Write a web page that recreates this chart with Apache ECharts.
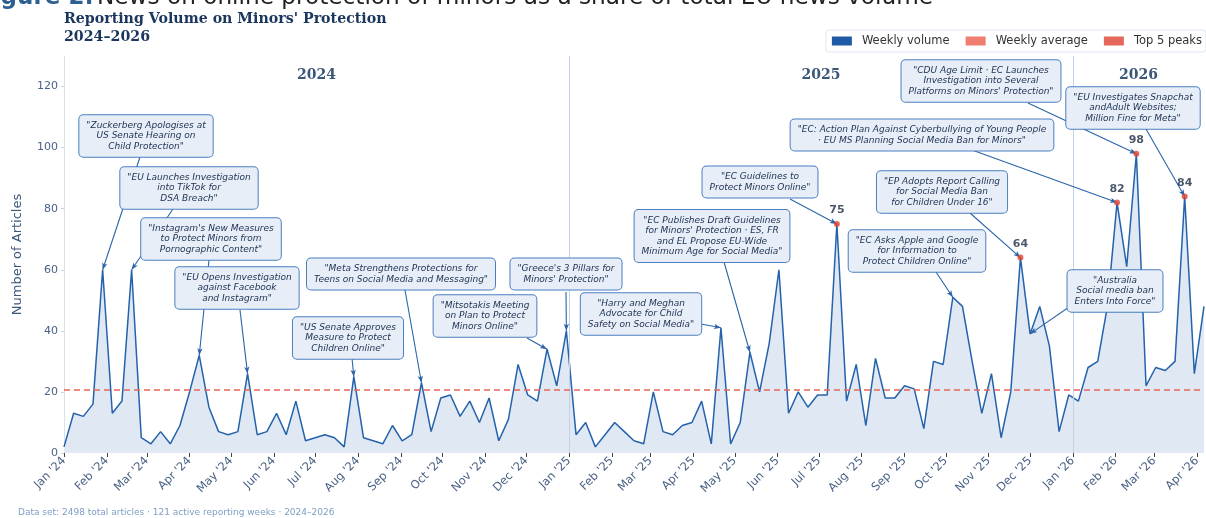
<!DOCTYPE html>
<html><head><meta charset="utf-8">
<script src="https://cdn.jsdelivr.net/npm/echarts@6/dist/echarts.min.js"></script>
<style>html,body{margin:0;padding:0;background:#fff}#c{width:1206px;height:518px}</style>
</head><body><div id="c"></div>
<script>
// ---------------- data ----------------
const weekStart = '2024-01-01';            // weekly points, Mondays
const weekly2024 = [2,13,12,16,60,13,17,60,5,3,7,3,9,20,32,15,7,6,7,26,6,7,13,6,17,4,5,6,5,2,25,5,4,3,9,4,6,23,7,18,19,12,17,10,18,4,11,29,19,17,34,22,40];
const weekly2025 = [6,10,2,6,10,7,4,3,20,7,6,9,10,17,3,41,3,10,33,20,36,60,13,20,15,19,19,75,17,29,9,31,18,18,22,21,8,30,29,51,48,30,13,26,5,20,64,39,48,35,7,19];
const weekly2026 = [17,28,30,48,82,61,98,22,28,27,30,84,26,48];
const monthTicks = ['2024-01-01','2024-02-01','2024-03-01','2024-04-01','2024-05-01','2024-06-01','2024-07-01','2024-08-01','2024-09-01','2024-10-01','2024-11-01','2024-12-01',
  '2025-01-01','2025-02-01','2025-03-01','2025-04-01','2025-05-01','2025-06-01','2025-07-01','2025-08-01','2025-09-01','2025-10-01','2025-11-01','2025-12-01',
  '2026-01-01','2026-02-01','2026-03-01','2026-04-01'];
const monthNames = ['Jan','Feb','Mar','Apr','May','Jun','Jul','Aug','Sep','Oct','Nov','Dec'];
const yTicks = [0,20,40,60,80,100,120];
const yearStarts = ['2024-01-01','2025-01-01','2026-01-01'];
const yearNames = ['2024','2025','2026'];
const totalArticles = 2498;
const activeWeeks = 121;
const annotations = [
 {date:'2024-01-29', text:'"Zuckerberg Apologises at\nUS Senate Hearing on\nChild Protection"'},
 {date:'2024-02-19', text:'"EU Launches Investigation\ninto TikTok for\nDSA Breach"'},
 {date:'2024-04-08', text:'"Instagram\'s New Measures\nto Protect Minors from\nPornographic Content"'},
 {date:'2024-05-13', text:'"EU Opens Investigation\nagainst Facebook\nand Instagram"'},
 {date:'2024-07-29', text:'"US Senate Approves\nMeasure to Protect\nChildren Online"'},
 {date:'2024-09-16', text:'"Meta Strengthens Protections for\nTeens on Social Media and Messaging"'},
 {date:'2024-12-16', text:'"Mitsotakis Meeting\non Plan to Protect\nMinors Online"'},
 {date:'2024-12-30', text:'"Greece\'s 3 Pillars for\nMinors\' Protection"'},
 {date:'2025-04-21', text:'"Harry and Meghan\nAdvocate for Child\nSafety on Social Media"'},
 {date:'2025-05-12', text:'"EC Publishes Draft Guidelines\nfor Minors\' Protection · ES, FR\nand EL Propose EU-Wide\nMinimum Age for Social Media"'},
 {date:'2025-07-14', text:'"EC Guidelines to\nProtect Minors Online"'},
 {date:'2025-10-06', text:'"EC Asks Apple and Google\nfor Information to\nProtect Children Online"'},
 {date:'2025-11-24', text:'"EP Adopts Report Calling\nfor Social Media Ban\nfor Children Under 16"'},
 {date:'2025-12-01', text:'"Australia\nSocial media ban\nEnters Into Force"'},
 {date:'2026-02-02', text:'"EC: Action Plan Against Cyberbullying of Young People\n· EU MS Planning Social Media Ban for Minors"'},
 {date:'2026-02-16', text:'"CDU Age Limit · EC Launches\nInvestigation into Several\nPlatforms on Minors\' Protection"'},
 {date:'2026-03-23', text:'"EU Investigates Snapchat\nandAdult Websites;\nMillion Fine for Meta"'}
];
// layout: box centre (cx,cy) and arrow start (sx,sy), in pixels
const annotationLayout = [
 [146,136,140,157],[189,188,173,209],[211,239,209,260],[237,288,240,310],[348,338,352,358],
 [401,274,405,290],[485,316,527,338],[566,274,566,292],[641,314,701,324],[712,236,724,262],
 [760,182,790,199],[917,251,936,272],[942,192,970,213],[1115,291,1072,305],[922,135,972,150],
 [981,81,1028,103],[1133,108,1146,129]
];

// ---------------- build ----------------
const DAY = 86400000;
const ts = s => Date.parse(s + 'T00:00:00Z');
const t0 = ts(weekStart);
const values = weekly2024.concat(weekly2025, weekly2026);
const seriesData = values.map((v, i) => [t0 + i * 7 * DAY, v]);
const lastDate = seriesData[seriesData.length - 1][0];
const valueAt = d => values[Math.round((ts(d) - t0) / (7 * DAY))];
const avg = totalArticles / activeWeeks;
const top5 = seriesData.slice().sort((a, b) => b[1] - a[1]).slice(0, 5).sort((a, b) => a[0] - b[0]);
const monthVals = monthTicks.map(ts);
const fmtMonth = v => { const d = new Date(v); return monthNames[d.getUTCMonth()] + " '" + String(d.getUTCFullYear()).slice(2); };

const FONT = 'DejaVu Sans';
const chart = echarts.init(document.getElementById('c'), null, {renderer: 'canvas'});
const option = {
  animation: false,
  textStyle: {fontFamily: FONT},
  title: {
    text: "Reporting Volume on Minors' Protection\n2024–2026",
    left: 59, top: 6,
    textStyle: {fontFamily: 'DejaVu Serif', fontWeight: 'bold', fontSize: 14.2, lineHeight: 17.5, color: '#1b365d'}
  },
  legend: {
    right: 0, top: 30, icon: 'rect', itemWidth: 20, itemHeight: 9, itemGap: 16,
    padding: [5, 4, 5, 6], backgroundColor: '#fff', borderColor: '#dfe6ef', borderWidth: 1, borderRadius: 3,
    textStyle: {fontSize: 11.5, color: '#333', padding: [0, 0, 0, 5]},
    data: ['Weekly volume', 'Weekly average', 'Top 5 peaks']
  },
  grid: {left: 64, right: 2, top: 56, bottom: 65, containLabel: false},
  xAxis: {
    type: 'value', min: t0, max: lastDate, scale: true,
    axisLine: {show: false},
    axisTick: {show: true, customValues: monthVals, length: 4, lineStyle: {color: '#444'}},
    axisLabel: {customValues: monthVals, rotate: 45, formatter: fmtMonth, color: '#4a6285', fontSize: 11.5, margin: 6, hideOverlap: false},
    splitLine: {show: false}
  },
  yAxis: {
    type: 'value', min: 0, max: 130,
    name: 'Number of Articles', nameLocation: 'middle', nameGap: 40,
    nameTextStyle: {fontSize: 13, color: '#3b5879'},
    axisLine: {show: true, lineStyle: {color: '#d9e1ec'}},
    axisTick: {show: true, customValues: yTicks, length: 3, lineStyle: {color: '#c8d3e0'}},
    axisLabel: {customValues: yTicks, color: '#4a6285', fontSize: 11, margin: 6},
    splitLine: {show: false}
  },
  series: [
    {
      name: 'Weekly volume', type: 'line', data: seriesData, symbol: 'none', color: '#1f5aa6',
      lineStyle: {width: 1.5, color: '#2462ab'},
      areaStyle: {color: '#dfe8f3', opacity: 1},
      z: 2,
      markLine: {
        silent: true, symbol: 'none', label: {show: false},
        lineStyle: {type: 'solid', color: '#c3d2e4', width: 1},
        data: yearStarts.slice(1).map(d => ({xAxis: ts(d)}))
      }
    },
    {
      name: 'Weekly average', type: 'line', data: [], color: '#ef7d70', z: 3,
      markLine: {
        silent: true, symbol: 'none', label: {show: false},
        lineStyle: {type: [6, 4], color: '#e8655a', width: 1.5},
        data: [{yAxis: avg}]
      }
    },
    {
      name: 'Top 5 peaks', type: 'scatter', data: top5, color: '#e04233', symbolSize: 6, z: 5,
      label: {show: true, position: 'top', distance: 5, formatter: p => p.value[1], fontWeight: 'bold', fontSize: 11, color: '#1b2a44'},
      markLine: {
        silent: true, symbol: ['none', 'arrow'], symbolSize: [4, 7], label: {show: false},
        lineStyle: {type: 'solid', color: '#2b64a8', width: 1.1},
        data: annotations.map((a, k) => [
          {x: annotationLayout[k][2], y: annotationLayout[k][3]},
          {coord: [ts(a.date), valueAt(a.date)]}
        ])
      }
    }
  ]
};
chart.setOption(option);

// graphics: boxes, year labels, header and footer
const g = [];
annotations.forEach((a, k) => {
  const L = annotationLayout[k];
  g.push({type: 'text', x: L[0], y: L[1], z: 100, style: {
    text: a.text, fontFamily: FONT, fontStyle: 'italic', fontSize: 9, lineHeight: 10.5, fill: '#1b3050',
    align: 'center', verticalAlign: 'middle', backgroundColor: '#e8eef8', borderColor: '#4a7fc0',
    borderWidth: 1, borderRadius: 4, padding: [5, 7, 5, 7]
  }});
});
yearStarts.forEach((d, k) => {
  const a = ts(d);
  const b = k + 1 < yearStarts.length ? ts(yearStarts[k + 1]) : lastDate;
  const x0 = chart.convertToPixel({xAxisIndex: 0}, a);
  const x1 = chart.convertToPixel({xAxisIndex: 0}, b);
  g.push({type: 'text', x: (x0 + x1) / 2, y: 75, z: 50, style: {
    text: yearNames[k], fontFamily: 'DejaVu Serif', fontWeight: 'bold', fontSize: 14, fill: '#3b5879',
    align: 'center', verticalAlign: 'middle'}});
});
g.push({type: 'text', x: -23, y: -2, z: 50, style: {
  text: '{a|Figure 2:} {b|News on online protection of minors as a share of total EU news volume}',
  verticalAlign: 'middle', align: 'left',
  rich: {a: {fontFamily: FONT, fontWeight: 'bold', fontSize: 23, fill: '#2d5f91'},
         b: {fontFamily: FONT, fontSize: 23.2, fill: '#222'}}
}});
g.push({type: 'text', x: 18, y: 513, z: 50, style: {
  text: 'Data set: ' + totalArticles + ' total articles · ' + activeWeeks + ' active reporting weeks · 2024–2026',
  fontFamily: FONT, fontSize: 9, fill: '#7f9dc4', align: 'left', verticalAlign: 'middle'}});
chart.setOption({graphic: g});
</script></body></html>
